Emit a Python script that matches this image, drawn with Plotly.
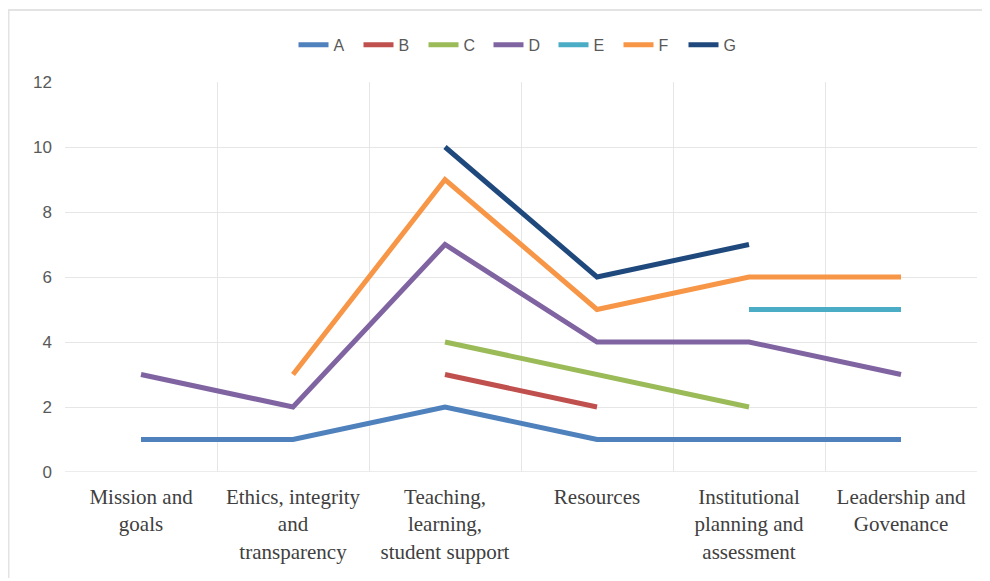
import plotly.graph_objects as go

categories = ["Mission and<br>goals", "Ethics, integrity<br>and<br>transparency",
              "Teaching,<br>learning,<br>student support", "Resources",
              "Institutional<br>planning and<br>assessment", "Leadership and<br>Govenance"]
A = [1, 1, 2, 1, 1, 1]
B = [None, None, 3, 2, None, None]
C = [None, None, 4, 3, 2, None]
D = [3, 2, 7, 4, 4, 3]
E = [None, None, None, None, 5, 5]
F = [None, 3, 9, 5, 6, 6]
G = [None, None, 10, 6, 7, None]
y_ticks = [0, 2, 4, 6, 8, 10, 12]

series = [("A", A, "#4F81BD"), ("B", B, "#C0504D"), ("C", C, "#9BBB59"),
          ("D", D, "#8064A2"), ("E", E, "#4BACC6"), ("F", F, "#F79646"),
          ("G", G, "#1F497D")]

fig = go.Figure()
for name, vals, col in series:
    fig.add_trace(go.Scatter(x=categories, y=vals, name=name, mode="lines",
                             line=dict(color=col, width=5), connectgaps=False))

fig.update_layout(
    width=980, height=570,
    margin=dict(l=57, r=11, t=74, b=106, autoexpand=False),
    paper_bgcolor="white", plot_bgcolor="white",
    showlegend=True,
    legend=dict(orientation="h", x=0.5, xanchor="center", y=1.095, yanchor="middle",
                font=dict(family="Liberation Sans, Arial", size=16, color="#595959"),
                entrywidth=20, entrywidthmode="pixels", tracegroupgap=0),
    xaxis=dict(type="category", tickson="boundaries", showgrid=True, gridcolor="#E6E6E6",
               gridwidth=1, ticks="", showline=False, zeroline=False,
               tickfont=dict(family="Liberation Serif, Times New Roman", size=21, color="#404040"),
               ticklabelstandoff=10, range=[-0.5, 5.5]),
    yaxis=dict(range=[0, 12], tickvals=y_ticks, showgrid=True, gridcolor="#E6E6E6",
               zeroline=False, showline=False, ticks="",
               tickfont=dict(family="Liberation Sans, Arial", size=17, color="#595959"),
               ticklabelstandoff=12),
)
fig.add_shape(type="line", xref="paper", yref="y", x0=0, x1=1, y0=0, y1=0,
              line=dict(color="#D9D9D9", width=1), layer="below")
fig.add_shape(type="rect", xref="paper", yref="paper",
              x0=(0.5 - 57) / 912, x1=(995 - 57) / 912, y0=-0.5, y1=(464 - 2) / 390,
              line=dict(color="#E3E3E3", width=2), layer="below")

fig.write_html("out.html")
